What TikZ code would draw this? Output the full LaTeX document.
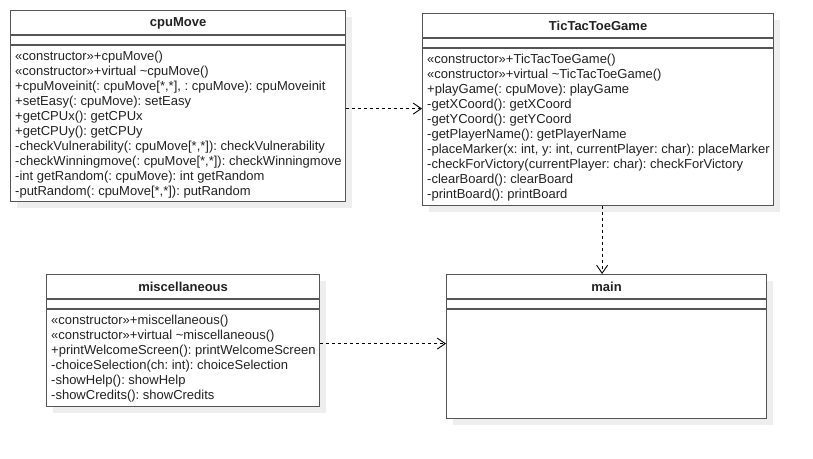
\documentclass[tikz,border=0pt]{standalone}
\usepackage{fontspec}
\setmainfont{Liberation Sans}
\usepackage{tikz}
\usetikzlibrary{arrows.meta, positioning, calc, shadows}
\definecolor{BoxLine}{HTML}{555555}
\definecolor{ShadowGray}{HTML}{EEEEEE}
\definecolor{TextGray}{HTML}{222222}
\frenchspacing
\tikzset{
  % Class boxes
  classbox/.style={rectangle, draw=BoxLine, fill=white, line width=1.2pt, anchor=north west, inner sep=0pt, drop shadow={shadow xshift=6pt, shadow yshift=-6pt, fill=ShadowGray, opacity=1}},
  classname/.style={font=\fontsize{13}{15}\selectfont\bfseries, text=TextGray, inner sep=0pt},
  members/.style={anchor=north west, align=left, inner sep=0pt, font=\fontsize{13}{15}\selectfont, text=TextGray},
  sepline/.style={draw=BoxLine, line width=1.2pt},
  % Arrow styles
  deparrow/.style={-{Straight Barb[length=8pt, width=11pt]}, dash pattern=on 3pt off 3pt, line width=0.9pt, black}
}
\begin{document}
\begin{tikzpicture}[x=1pt, y=-1pt]
  \useasboundingbox (0,0) rectangle (813,458);

  % cpuMove
  \node[classbox, minimum width=335pt, minimum height=191pt] (cpu) at (10,10) {};
  \node[classname] at ([yshift=-13pt]cpu.north) {cpuMove};
  \draw[sepline] ([yshift=-25pt]cpu.north west) -- ([yshift=-25pt]cpu.north east);
  \draw[sepline] ([yshift=-35pt]cpu.north west) -- ([yshift=-35pt]cpu.north east);
  \node[members] (cpuops) at ([shift={(5pt,-40.5pt)}]cpu.north west) {%
    «constructor»+cpuMove()\\
    «constructor»+virtual \textasciitilde cpuMove()\\
    +cpuMoveinit(: cpuMove[*,*], : cpuMove): cpuMoveinit\\
    +setEasy(: cpuMove): setEasy\\
    +getCPUx(): getCPUx\\
    +getCPUy(): getCPUy\\
    -checkVulnerability(: cpuMove[*,*]): checkVulnerability\\
    -checkWinningmove(: cpuMove[*,*]): checkWinningmove\\
    -int getRandom(: cpuMove): int getRandom\\
    -putRandom(: cpuMove[*,*]): putRandom};

  % TicTacToeGame
  \node[classbox, minimum width=351pt, minimum height=192pt] (game) at (422,13) {};
  \node[classname] at ([yshift=-13pt]game.north) {TicTacToeGame};
  \draw[sepline] ([yshift=-25pt]game.north west) -- ([yshift=-25pt]game.north east);
  \draw[sepline] ([yshift=-35pt]game.north west) -- ([yshift=-35pt]game.north east);
  \node[members] (gameops) at ([shift={(5pt,-40.5pt)}]game.north west) {%
    «constructor»+TicTacToeGame()\\
    «constructor»+virtual \textasciitilde TicTacToeGame()\\
    +playGame(: cpuMove): playGame\\
    -getXCoord(): getXCoord\\
    -getYCoord(): getYCoord\\
    -getPlayerName(): getPlayerName\\
    -placeMarker(x: int, y: int, currentPlayer: char): placeMarker\\
    -checkForVictory(currentPlayer: char): checkForVictory\\
    -clearBoard(): clearBoard\\
    -printBoard(): printBoard};

  % miscellaneous
  \node[classbox, minimum width=273pt, minimum height=132pt] (misc) at (46,274) {};
  \node[classname] at ([yshift=-13pt]misc.north) {miscellaneous};
  \draw[sepline] ([yshift=-25pt]misc.north west) -- ([yshift=-25pt]misc.north east);
  \draw[sepline] ([yshift=-35pt]misc.north west) -- ([yshift=-35pt]misc.north east);
  \node[members] (miscops) at ([shift={(5pt,-40.5pt)}]misc.north west) {%
    «constructor»+miscellaneous()\\
    «constructor»+virtual \textasciitilde miscellaneous()\\
    +printWelcomeScreen(): printWelcomeScreen\\
    -choiceSelection(ch: int): choiceSelection\\
    -showHelp(): showHelp\\
    -showCredits(): showCredits};

  % main
  \node[classbox, minimum width=320pt, minimum height=144pt] (main) at (446,274) {};
  \node[classname] at ([yshift=-13pt]main.north) {main};
  \draw[sepline] ([yshift=-25pt]main.north west) -- ([yshift=-25pt]main.north east);
  \draw[sepline] ([yshift=-35pt]main.north west) -- ([yshift=-35pt]main.north east);

  % Dependencies
  \draw[deparrow] ([yshift=-2.5pt]cpu.east) -- ([yshift=-2.5pt]cpu.east -| game.west);
  \draw[deparrow] ([xshift=4pt]game.south) -- ([xshift=4pt]game.south |- main.north);
  \draw[deparrow] ([yshift=-3pt]misc.east) -- ([yshift=-3pt]misc.east -| main.west);
\end{tikzpicture}
\end{document}
